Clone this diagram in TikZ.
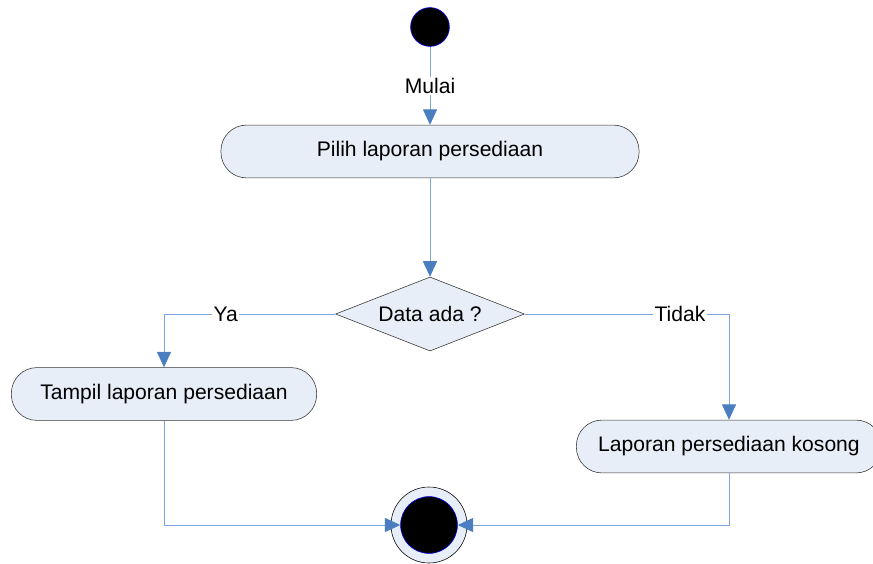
\documentclass[tikz,border=0pt]{standalone}
\usepackage{fontspec}
\setmainfont{Liberation Sans}
\usetikzlibrary{arrows.meta,shapes.geometric}
\usetikzlibrary{positioning}
\definecolor{boxfill}{RGB}{232,238,247}
\definecolor{flowline}{RGB}{126,166,222}
\definecolor{tipblue}{RGB}{74,126,193}
\tikzstyle{action} = [rectangle, rounded corners=0.64cm, minimum height=1.32cm, text centered, draw=black!80, fill=boxfill, font=\fontsize{15}{18}\selectfont]
\tikzstyle{decision} = [diamond, aspect=2.55, inner sep=0pt, minimum width=4.72cm, minimum height=1.85cm, draw=black!80, fill=boxfill, font=\fontsize{15}{18}\selectfont]
\tikzstyle{flow} = [draw=flowline, line width=0.7pt, -{Triangle[width=10pt,length=11pt,color=tipblue]}]
\tikzstyle{guard} = [fill=white, inner sep=1pt, font=\fontsize{15}{18}\selectfont]

\begin{document}
\begin{tikzpicture}[x=0.025cm, y=-0.025cm]
 \useasboundingbox (0,0) rectangle (873,564);

 \node (start) [circle, draw=blue, fill=black, minimum size=0.97cm, inner sep=0pt] at (430,27) {};
 \node (pilih) [action, minimum width=10.45cm] at (430,151.5) {Pilih laporan persediaan};
 \node (cek) [decision] at (430,314) {Data ada ?};
 \node (tampil) [action, minimum width=7.63cm] at (164,394) {Tampil laporan persediaan};
 \node (kosong) [action, minimum width=7.63cm] at (729,446.5) {Laporan persediaan kosong};
 \node (akhir) [circle, draw=black, fill=boxfill, minimum size=1.9cm, inner sep=0pt] at (429,525) {};
 \node (akhirdot) [circle, draw=blue, fill=black, minimum size=1.42cm, inner sep=0pt] at (akhir) {};

 \draw[flow] (start) -- node[guard] {Mulai} (pilih);
 \draw[flow] (pilih) -- (cek);
 \draw[flow] (cek.west) -| node[guard, pos=0.32] {Ya} (tampil);
 \draw[flow] (cek.east) -| node[guard, pos=0.38] {Tidak} (kosong);
 \draw[flow] (tampil.south) |- (akhirdot.west);
 \draw[flow] (kosong.south) |- (akhirdot.east);
\end{tikzpicture}
\end{document}
